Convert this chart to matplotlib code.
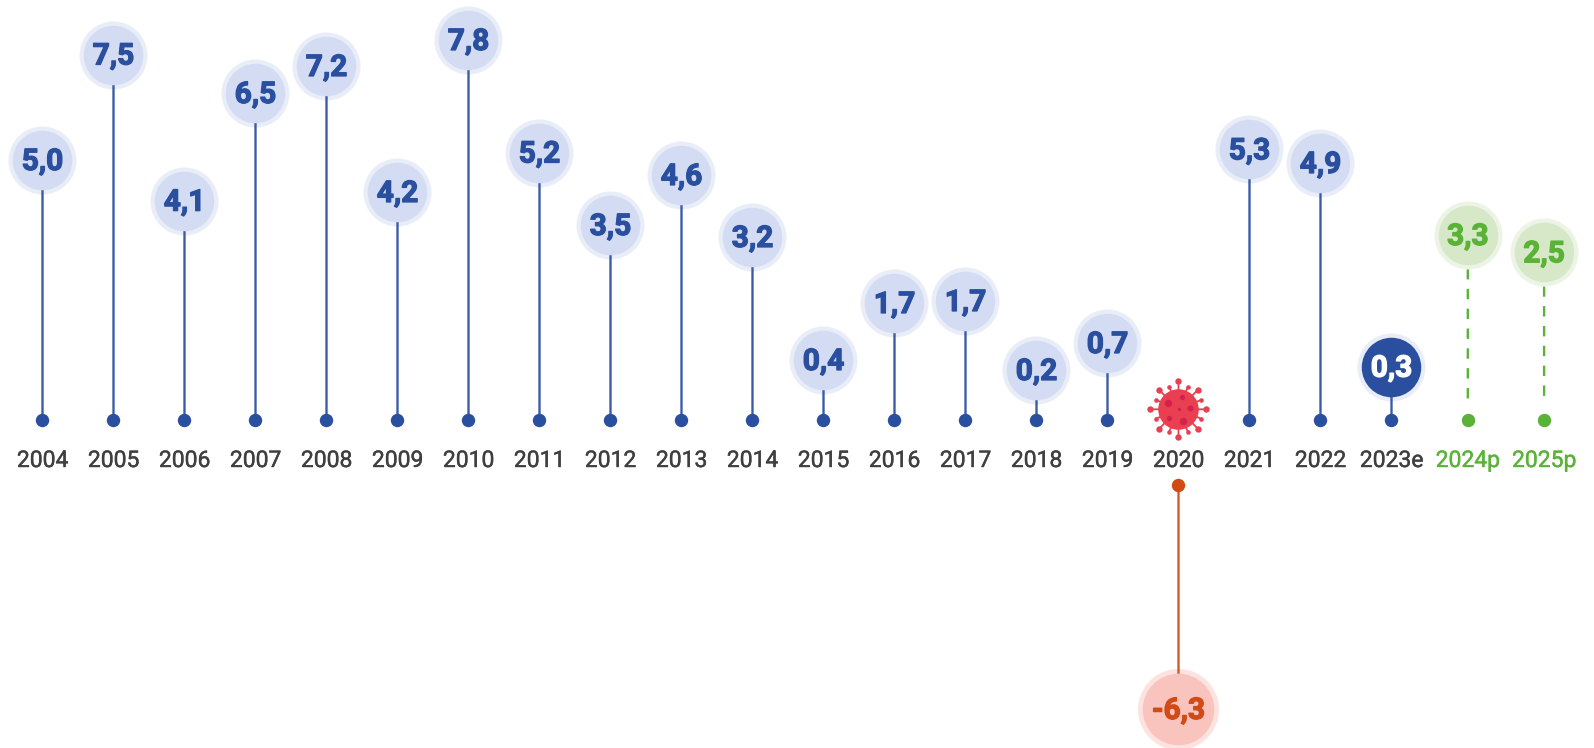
import numpy as np
from matplotlib import pyplot as plt
from matplotlib import patheffects as pe

years = ['2004', '2005', '2006', '2007', '2008', '2009', '2010', '2011', '2012', '2013', '2014',
         '2015', '2016', '2017', '2018', '2019', '2020', '2021', '2022', '2023e', '2024p', '2025p']
values = [5.0, 7.5, 4.1, 6.5, 7.2, 4.2, 7.8, 5.2, 3.5, 4.6, 3.2,
          0.4, 1.7, 1.7, 0.2, 0.7, -6.3, 5.3, 4.9, 0.3, 3.3, 2.5]
# height of each bubble above the dot row (not quite linear in the value)
levels = [260, 365.5, 219.3, 327, 354, 228, 380, 267.5, 195, 245, 183,
          60, 117, 119, 50, 77, -289, 270.6, 257, 53.3, 185, 167.7]

BLUE = '#2A4F9E'
GREEN = '#5AB337'
ORANGE = '#D14B16'
GREY = '#3F3F3F'

def area(px):
  return (px * 0.72) ** 2

def styleFor(year, value):
  if year.endswith('p'):
    return GREEN, '#D7E8C8', '#ECF4E5', GREEN
  if value < 0:
    return ORANGE, '#F9C4BD', '#FCE3DF', ORANGE
  if year.endswith('e'):
    return BLUE, BLUE, '#E9EDF8', 'white'
  return BLUE, '#D3DCF2', '#E9EDF8', BLUE

def drawVirus(ax, x, y):
  # x unit is 71 px, y unit is 1 px
  sx = 1 / 71
  for k in range(16):
    ang = k * np.pi / 8 + np.pi / 2
    big = k % 2 == 0
    r = 28 if big else 24.5
    tx, ty = x + r * np.cos(ang) * sx, y + r * np.sin(ang)
    ax.plot([x, tx], [y, ty], color='#E84050', lw=1.3, solid_capstyle='butt', zorder=5, snap=False)
    ax.scatter([tx], [ty], s=area(6.4 if big else 4.6), color='#E84050', lw=0, zorder=5, snap=False)
  ax.scatter([x], [y], s=area(40.5), color='#E84050', lw=0, zorder=6, snap=False)
  spots = [(-10.7, 6, 7.4), (3.7, 12.7, 5.4), (12, 1, 6), (0.7, 0, 3.4), (-9.3, -9, 5.4), (5, -11.3, 7.4)]
  for dx, dy, d in spots:
    ax.scatter([x + dx * sx], [y + dy], s=area(d), color='#D5204F', lw=0, zorder=7, snap=False)

fig = plt.figure(figsize=(15.94, 7.48), dpi=100)
ax = fig.add_axes([0, 0, 1, 1])
ax.set_xlim(-42.5 / 71, (1594 - 42.5) / 71)
ax.set_ylim(-328, 420)
ax.axis('off')

step = np.ones(len(years))
step[-2:] = 76.3 / 71
step[0] = 0
xs = np.cumsum(step)

for x, year, value, level in zip(xs, years, values, levels):
  line, fill, halo, txt = styleFor(year, value)
  text_color = GREEN if year.endswith('p') else GREY
  t = ax.text(x, -40.5, year, color=text_color, fontsize=16.5, family='Roboto',
              ha='center', va='center')
  t.set_path_effects([pe.withStroke(linewidth=0.3, foreground=text_color)])
  big = value < 0
  if big:
    dot = -64.7
  else:
    dot = 0
  if year.endswith('p'):
    ax.plot([x, x], [level - 34, 15], color=line, lw=1.7, ls=(0, (4.4, 4.0)), zorder=1, snap=False)
  else:
    ax.plot([x, x], [dot, level], color=line, lw=1.7, alpha=0.92, zorder=2.5, snap=False)
  ax.scatter([x], [dot], s=area(13.4), color=line, lw=0, zorder=3, snap=False)
  ax.scatter([x], [level], s=area(81 if big else 68), color=halo, lw=0, zorder=2, snap=False)
  ax.scatter([x], [level], s=area(71.6 if big else 59.5), color=fill, lw=0, zorder=3, snap=False)
  label = ('%.1f' % value).replace('.', ',')
  t = ax.text(x, level - 2, label, color=txt, fontsize=21.5, fontweight='bold', family='Roboto',
              ha='center', va='center', zorder=4)
  t.set_path_effects([pe.withStroke(linewidth=0.9, foreground=txt)])

drawVirus(ax, xs[years.index('2020')], 10.7)

fig.savefig('out.png', dpi=100)
